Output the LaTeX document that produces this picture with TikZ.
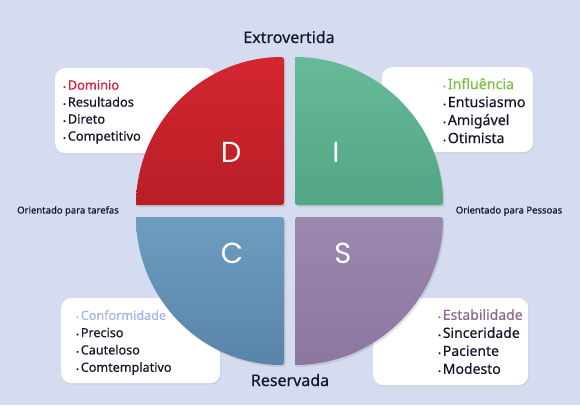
\documentclass[tikz,border=0pt]{standalone}
\usepackage{fontspec}
\setmainfont{Noto Sans}[FakeBold=0.5]
\newfontfamily\letterfont{Poppins}
\usetikzlibrary{shadows,positioning}
\definecolor{PageBg}{HTML}{D6DCEF}
\definecolor{Ink}{HTML}{15172A}
\definecolor{DomTop}{HTML}{D4262F}
\definecolor{DomBot}{HTML}{B81E27}
\definecolor{InfTop}{HTML}{66BA98}
\definecolor{InfBot}{HTML}{52A684}
\definecolor{ConTop}{HTML}{6E9DC0}
\definecolor{ConBot}{HTML}{5884A9}
\definecolor{EstTop}{HTML}{9C89AE}
\definecolor{EstBot}{HTML}{8B76A0}
\definecolor{DomText}{HTML}{D61F38}
\definecolor{InfText}{HTML}{7CC144}
\definecolor{ConText}{HTML}{A7B4E4}
\definecolor{EstText}{HTML}{8C6A88}
\newcommand\itemdot{{\fontsize{7}{7}\selectfont\textbullet}\hspace{2pt}}

\begin{document}
\begin{tikzpicture}[x=1pt,y=1pt,
    card/.style={rectangle, rounded corners=10pt, fill=white, minimum width=160pt, minimum height=85pt, anchor=north west, drop shadow={opacity=0.12, shadow xshift=1pt, shadow yshift=-1.5pt}},
    trait/.style={anchor=north west, align=left, inner sep=0pt, text=Ink},
    quad/.style={drop shadow={opacity=0.22, shadow xshift=1.5pt, shadow yshift=-2pt}},
    letter/.style={text=white, font=\letterfont\fontsize{29}{29}\selectfont},
    axis/.style={text=Ink, font=\fontsize{16}{16}\selectfont},
    side/.style={text=Ink, font=\fontsize{9.5}{9.5}\selectfont}
]
\useasboundingbox[fill=PageBg] (0,0) rectangle (580,405);

\node[card] (cardD) at (55,337) {};
\node[card, minimum width=151pt] (cardI) at (382,338) {};
\node[card, minimum width=159pt] (cardC) at (61,107) {};
\node[card, minimum width=155pt, minimum height=87pt] (cardS) at (373,107) {};

\path[quad, top color=DomTop, bottom color=DomBot] (136,200) {[rounded corners=2.5pt] -- (284,200) -- (284,348)} arc[start angle=90, end angle=180, radius=148] -- cycle;
\path[quad, top color=InfTop, bottom color=InfBot] (295,348) {[rounded corners=2.5pt] -- (295,200) -- (443,200)} arc[start angle=0, end angle=90, radius=148] -- cycle;
\path[quad, top color=ConTop, bottom color=ConBot] (136,188) {[rounded corners=2.5pt] -- (284,188) -- (284,40)} arc[start angle=270, end angle=180, radius=148] -- cycle;
\path[quad, top color=EstTop, bottom color=EstBot] (295,40) {[rounded corners=2.5pt] -- (295,188) -- (443,188)} arc[start angle=0, end angle=-90, radius=148] -- cycle;

\node[letter] (letD) at (231,253) {D};
\node[letter] (letI) at (336,253) {I};
\node[letter] (letC) at (232,152) {C};
\node[letter] (letS) at (343,152) {S};

\node[axis] (extro) at (289,368) {Extrovertida};
\node[axis] (reserv) at (290,25) {Reservada};
\node[side] (tarefas) at (68,194) {Orientado para tarefas};
\node[side] (pessoas) at (509,194) {Orientado para Pessoas};

\node[trait, font=\fontsize{12.8}{17}\selectfont] (listD) at (63,325)
  {\textcolor{DomText}{\itemdot Dominio}\\\itemdot Resultados\\\itemdot Direto\\\itemdot Competitivo};
\node[trait, font=\fontsize{14.2}{18}\selectfont] (listI) at (443,327)
  {\textcolor{InfText}{\itemdot Influência}\\\itemdot Entusiasmo\\\itemdot Amigável\\\itemdot Otimista};
\node[trait, font=\fontsize{12.6}{17.3}\selectfont] (listC) at (76,95)
  {\textcolor{ConText}{\itemdot Conformidade}\\\itemdot Preciso\\\itemdot Cauteloso\\\itemdot Comtemplativo};
\node[trait, font=\fontsize{14}{18}\selectfont] (listS) at (438,96)
  {\textcolor{EstText}{\itemdot Estabilidade}\\\itemdot Sinceridade\\\itemdot Paciente\\\itemdot Modesto};
\end{tikzpicture}
\end{document}
